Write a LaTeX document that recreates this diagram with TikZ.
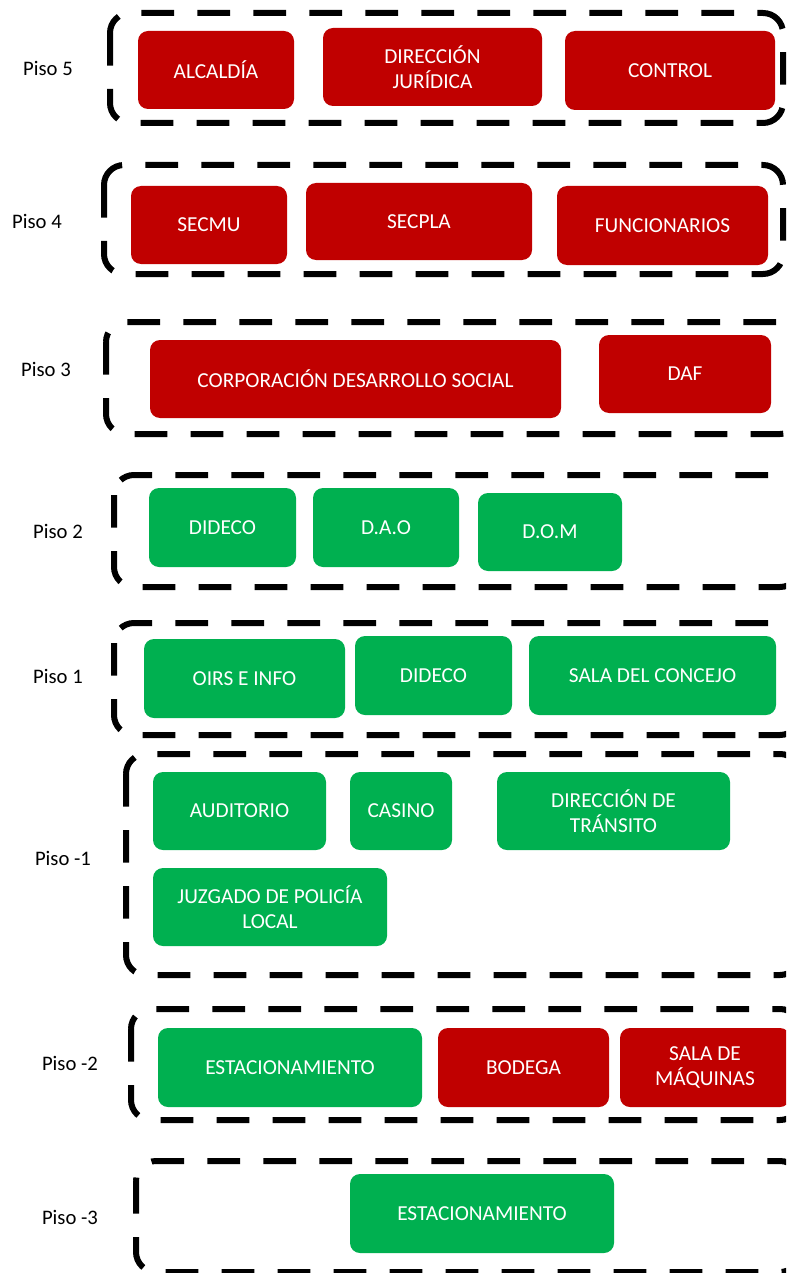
\documentclass[tikz,border=0pt]{standalone}
\usepackage{fontspec}
\setmainfont{Carlito}
\definecolor{roomred}{HTML}{C00000}
\definecolor{roomgreen}{HTML}{00B050}
\begin{document}
\begin{tikzpicture}[x=0.75pt,y=-0.75pt,
  room/.style={rounded corners=7.5pt, text=white, inner sep=0pt, align=center,
    font=\fontsize{16}{18.75}\selectfont},
  sz/.style 2 args={minimum width=#1*0.75pt, minimum height=#2*0.75pt},
  redroom/.style={room, fill=roomred},
  greenroom/.style={room, fill=roomgreen},
  floorbox/.style={draw=black, line width=4.5pt, rounded corners=15pt,
    dash pattern=on 24.5pt off 17.5pt},
  floorlabel/.style={font=\fontsize{15.5}{18}\selectfont, text=black}]
\useasboundingbox (0,0) rectangle (786,1273);
\clip (0,0) rectangle (786,1273);
\fill[white] (0,0) rectangle (786,1273);

% floor outlines
\draw[floorbox] (110,13) rectangle (783,123);
\draw[floorbox] (104,165) rectangle (783,274);
\draw[floorbox] (106,322) rectangle (800,434);
\draw[floorbox] (114,475) rectangle (800,587);
\draw[floorbox] (114,623) rectangle (800,735);
\draw[floorbox] (126,754) rectangle (800,975);
\draw[floorbox] (131,1009) rectangle (800,1120);
\draw[floorbox] (136,1161) rectangle (800,1272);

% floor labels
\node[floorlabel] (p5) at (48,68) {Piso 5};
\node[floorlabel] (p4) at (37,221) {Piso 4};
\node[floorlabel] (p3) at (46,369) {Piso 3};
\node[floorlabel] (p2) at (58,531) {Piso 2};
\node[floorlabel] (p1) at (58,676) {Piso 1};
\node[floorlabel] (pm1) at (63,858) {Piso -1};
\node[floorlabel] (pm2) at (70,1063) {Piso -2};
\node[floorlabel] (pm3) at (70,1217) {Piso -3};

% Piso 5
\node[redroom, sz={156}{78}] (alcaldia) at (216,70) {ALCALDÍA};
\node[redroom, sz={219}{78}] (juridica) at (432.5,67) {DIRECCIÓN\\JURÍDICA};
\node[redroom, sz={210}{79}] (control) at (670,70.5) {CONTROL};
% Piso 4
\node[redroom, sz={156}{78}] (secmu) at (209,225) {SECMU};
\node[redroom, sz={226}{77}] (secpla) at (419,221.5) {SECPLA};
\node[redroom, sz={211}{79}] (funcionarios) at (662.5,225.5) {FUNCIONARIOS};
% Piso 3
\node[redroom, sz={411}{78}] (corp) at (355.5,379) {CORPORACIÓN DESARROLLO SOCIAL};
\node[redroom, sz={172}{78}] (daf) at (685,374) {DAF};
% Piso 2
\node[greenroom, sz={147}{79}] (dideco2) at (222.5,527.5) {DIDECO};
\node[greenroom, sz={146}{79}] (dao) at (386,527.5) {D.A.O};
\node[greenroom, sz={144}{78}] (dom) at (550,532) {D.O.M};
% Piso 1
\node[greenroom, sz={201}{79}] (oirs) at (244.5,678.5) {OIRS E INFO};
\node[greenroom, sz={157}{79}] (dideco1) at (433.5,675.5) {DIDECO};
\node[greenroom, sz={247}{79}] (concejo) at (652.5,675.5) {SALA DEL CONCEJO};
% Piso -1
\node[greenroom, sz={173}{78}] (auditorio) at (239.5,811) {AUDITORIO};
\node[greenroom, sz={102}{78}] (casino) at (401,811) {CASINO};
\node[greenroom, sz={233}{78}] (transito) at (613.5,811) {DIRECCIÓN DE\\TRÁNSITO};
\node[greenroom, sz={234}{78}] (juzgado) at (270,907) {JUZGADO DE POLICÍA\\LOCAL};
% Piso -2
\node[greenroom, sz={264}{79}] (est2) at (290,1067.5) {ESTACIONAMIENTO};
\node[redroom, sz={171}{79}] (bodega) at (523.5,1067.5) {BODEGA};
\node[redroom, sz={170}{79}] (maquinas) at (705,1067.5) {SALA DE\\MÁQUINAS};
% Piso -3
\node[greenroom, sz={264}{79}] (est3) at (482,1213.5) {ESTACIONAMIENTO};
\end{tikzpicture}
\end{document}
